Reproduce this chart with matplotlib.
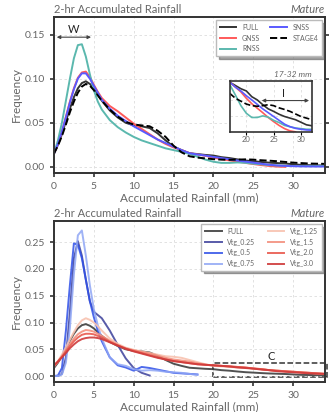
import numpy as np
import matplotlib
matplotlib.use("Agg")
import matplotlib.pyplot as plt
from matplotlib.patches import Rectangle

plt.rcParams['font.family'] = ['Lato', 'DejaVu Sans']

# shared rainfall grid (mm)
rain = [0, 0.5, 1, 1.5, 2, 2.5, 3, 3.5, 4, 4.5, 5, 5.5, 6, 7, 8, 9, 10, 11, 12, 13, 14, 15, 16,
        17, 18, 19, 20, 21, 22, 23, 24, 25, 26, 27, 28, 29, 30, 31, 32, 33, 34]
nan = np.nan

# top panel
full = [0.015, 0.025, 0.037, 0.052, 0.066, 0.079, 0.089, 0.095, 0.097, 0.094, 0.089, 0.082, 0.075,
        0.064, 0.056, 0.050, 0.047, 0.046, 0.044, 0.038, 0.030, 0.023, 0.019,
        0.0155, 0.0145, 0.0135, 0.0128, 0.011, 0.0100, 0.0085, 0.0072, 0.0064, 0.0055, 0.0048,
        0.0043, 0.0038, 0.0030, 0.0022, 0.0019, 0.0017, 0.0015]
gnss = [0.015, 0.026, 0.040, 0.057, 0.074, 0.089, 0.101, 0.107, 0.108, 0.102, 0.093, 0.085, 0.078,
        0.069, 0.063, 0.056, 0.049, 0.043, 0.037, 0.031, 0.026, 0.022, 0.019,
        0.0155, 0.0140, 0.0125, 0.0105, 0.0088, 0.0074, 0.0060, 0.0045, 0.0032, 0.0020, 0.0010,
        0.0003, 0.0, nan, nan, nan, nan, nan]
rnss = [0.015, 0.030, 0.050, 0.075, 0.100, 0.123, 0.138, 0.139, 0.125, 0.105, 0.087, 0.074, 0.065,
        0.053, 0.045, 0.039, 0.034, 0.030, 0.027, 0.024, 0.021, 0.019, 0.017,
        0.0147, 0.0115, 0.0082, 0.0058, 0.0045, 0.0045, 0.0050, 0.0046, 0.0036, 0.0029, 0.0020,
        0.0016, 0.0012, 0.0010, 0.0008, 0.0008, 0.0008, 0.0008]
snss = [0.015, 0.026, 0.040, 0.056, 0.073, 0.088, 0.100, 0.106, 0.106, 0.100, 0.092, 0.084, 0.076,
        0.066, 0.058, 0.052, 0.046, 0.041, 0.036, 0.031, 0.027, 0.023, 0.019,
        0.0155, 0.0140, 0.0128, 0.0113, 0.0100, 0.0086, 0.0072, 0.0060, 0.0048, 0.0036, 0.0024,
        0.0016, 0.0011, 0.0008, 0.0006, 0.0005, 0.0004, 0.0004]
stage4 = [0.015, 0.024, 0.035, 0.048, 0.062, 0.074, 0.084, 0.091, 0.094, 0.092, 0.087, 0.081, 0.075,
          0.065, 0.057, 0.051, 0.048, 0.047, 0.046, 0.041, 0.034, 0.024, 0.0165,
          0.0120, 0.0105, 0.0096, 0.0087, 0.0082, 0.0080, 0.0082, 0.0085, 0.0082, 0.0075, 0.0070,
          0.0064, 0.0056, 0.0048, 0.0043, 0.0038, 0.0036, 0.0034]

# bottom panel (Vtg sensitivity)
vtg_025 = [0.0, 0.0, 0.004, 0.035, 0.120, 0.220, 0.252, 0.225, 0.180, 0.140, 0.120, 0.114, 0.108,
           0.085, 0.058, 0.033, 0.015, 0.006, 0.001, nan, nan, nan, nan,
           nan, nan, nan, nan, nan, nan, nan, nan, nan, nan, nan, nan, nan, nan, nan, nan, nan, nan]
vtg_05 = [0.0, 0.001, 0.015, 0.085, 0.170, 0.248, 0.245, 0.220, 0.180, 0.140, 0.110, 0.085, 0.065,
          0.035, 0.020, 0.016, 0.010, 0.017, 0.015, 0.012, 0.009, 0.006, 0.005,
          0.004, 0.003, nan, nan, nan, nan, nan, nan, nan, nan, nan, nan, nan, nan, nan, nan, nan, nan]
vtg_075 = [0.0, 0.0, 0.003, 0.025, 0.090, 0.190, 0.263, 0.272, 0.225, 0.170, 0.125, 0.095, 0.070,
           0.035, 0.022, 0.019, 0.013, 0.010, 0.011, 0.010, 0.008, 0.007, 0.006,
           0.004, 0.002, nan, nan, nan, nan, nan, nan, nan, nan, nan, nan, nan, nan, nan, nan, nan, nan]
vtg_125 = [0.018, 0.028, 0.040, 0.054, 0.068, 0.082, 0.095, 0.104, 0.108, 0.105, 0.100, 0.093, 0.085,
           0.070, 0.060, 0.053, 0.049, 0.046, 0.043, 0.040, 0.037, 0.036, 0.034,
           0.030, 0.026, 0.022, 0.019, 0.018, 0.017, 0.016, 0.015, 0.014, 0.013, 0.011,
           0.010, 0.009, 0.008, 0.007, 0.006, 0.005, 0.004]
vtg_15 = [0.018, 0.027, 0.037, 0.048, 0.060, 0.070, 0.078, 0.083, 0.086, 0.085, 0.083, 0.079, 0.075,
          0.066, 0.058, 0.052, 0.048, 0.045, 0.042, 0.038, 0.034, 0.031, 0.029,
          0.027, 0.024, 0.021, 0.020, 0.019, 0.018, 0.017, 0.016, 0.014, 0.013, 0.011,
          0.010, 0.009, 0.008, 0.007, 0.006, 0.005, 0.004]
vtg_20 = [0.019, 0.027, 0.036, 0.046, 0.056, 0.065, 0.072, 0.077, 0.079, 0.079, 0.078, 0.075, 0.072,
          0.064, 0.057, 0.051, 0.047, 0.043, 0.039, 0.035, 0.031, 0.028, 0.026,
          0.024, 0.022, 0.021, 0.020, 0.019, 0.018, 0.017, 0.016, 0.014, 0.013, 0.011,
          0.010, 0.009, 0.008, 0.007, 0.006, 0.005, 0.004]
vtg_30 = [0.020, 0.027, 0.035, 0.043, 0.052, 0.059, 0.065, 0.069, 0.071, 0.072, 0.072, 0.071, 0.069,
          0.063, 0.057, 0.051, 0.046, 0.042, 0.038, 0.034, 0.031, 0.028, 0.026,
          0.024, 0.022, 0.021, 0.020, 0.019, 0.018, 0.016, 0.015, 0.014, 0.012, 0.011,
          0.009, 0.008, 0.007, 0.006, 0.005, 0.0045, 0.004]

txt = '#666666'
spine_c = '#333333'


def style_axes(ax):
    for s in ax.spines.values():
        s.set_color(spine_c)
        s.set_linewidth(1.4)
    ax.grid(True, ls=(0, (3, 3)), lw=0.6, color='#dddddd')
    ax.tick_params(labelsize=7.5, colors=spine_c, labelcolor=txt, width=1.2, length=3)
    ax.set_xlabel('Accumulated Rainfall (mm)', fontsize=8.5, color=txt, labelpad=1)
    ax.set_ylabel('Frequency', fontsize=8.5, color=txt, labelpad=2)
    ax.set_title('2-hr Accumulated Rainfall', loc='left', fontsize=8, color=txt, pad=3)
    ax.set_title('Mature', loc='right', fontsize=8, color=txt, style='italic', pad=3)


fig = plt.figure(figsize=(3.29, 4.12), dpi=100)

# ---------- top panel ----------
ax1 = fig.add_axes([0.164, 0.580, 0.824, 0.379])
series_top = [('FULL', full, '#333333', '-'), ('GNSS', gnss, '#ff5a5a', '-'),
              ('RNSS', rnss, '#5bb8ae', '-'), ('SNSS', snss, '#5a5aff', '-'),
              ('STAGE4', stage4, 'black', '--')]
for name, vals, c, ls in series_top:
    ax1.plot(rain, vals, color=c, ls=ls, lw=1.4, label=name)
ax1.set_xlim(0, 34)
ax1.set_ylim(-0.007, 0.17)
ax1.set_xticks([0, 5, 10, 15, 20, 25, 30])
ax1.set_yticks([0.0, 0.05, 0.10, 0.15])
ax1.yaxis.set_ticks_position('both')
style_axes(ax1)
leg = ax1.legend(ncol=2, fontsize=5, loc='upper right', frameon=True, fancybox=False,
                 shadow=True, handlelength=2.4, columnspacing=1.4, labelspacing=0.55,
                 borderpad=0.5)
for t in leg.get_texts():
    t.set_color(txt)
leg.get_frame().set_edgecolor('#bbbbbb')

ax1.annotate('', xy=(0, 0.147), xytext=(5, 0.147),
             arrowprops=dict(arrowstyle='<|-|>', color='#444444', lw=0.8, mutation_scale=5))
ax1.text(2.5, 0.149, 'W', ha='center', va='bottom', fontsize=8, color='#222222')

# inset
axi = fig.add_axes([0.699, 0.680, 0.249, 0.124])
for name, vals, c, ls in series_top:
    axi.plot(rain, vals, color=c, ls=ls, lw=1.2)
axi.set_xlim(17, 32)
axi.set_ylim(0, 0.016)
axi.set_xticks([20, 25, 30])
axi.set_yticks([0.005, 0.010])
axi.set_yticklabels([])
axi.tick_params(axis='y', length=0)
axi.tick_params(axis='x', labelsize=5.5, labelcolor=txt, length=2, pad=1)
axi.grid(True, ls=(0, (3, 3)), lw=0.6, color='#dddddd')
for s in axi.spines.values():
    s.set_color(spine_c)
    s.set_linewidth(1.2)
axi.set_title('17-32 mm', loc='right', fontsize=6, style='italic', color=txt, pad=3)
axi.annotate('', xy=(22.3, 0.0098), xytext=(32, 0.0098),
             arrowprops=dict(arrowstyle='<|-|>', color='#444444', lw=0.8, mutation_scale=5))
axi.text(26.8, 0.0103, 'I', ha='center', va='bottom', fontsize=8, color='#222222')

# ---------- bottom panel ----------
ax2 = fig.add_axes([0.164, 0.073, 0.824, 0.391])
series_bot = [('FULL', full, '#333333', 0.85), ('Vtg_0.25', vtg_025, '#3b3f9a', 0.85),
              ('Vtg_0.5', vtg_05, '#2f50e8', 0.85), ('Vtg_0.75', vtg_075, '#8fa6f5', 0.85),
              ('Vtg_1.25', vtg_125, '#f8c2b0', 0.9), ('Vtg_1.5', vtg_15, '#f3907e', 0.9),
              ('Vtg_2.0', vtg_20, '#e95a4e', 0.9), ('Vtg_3.0', vtg_30, '#cf3a3a', 0.9)]
for name, vals, c, a in series_bot:
    ax2.plot(rain, vals, color=c, lw=1.4, alpha=a, label=name)
ax2.set_xlim(0, 34)
ax2.set_ylim(-0.011, 0.29)
ax2.set_xticks([0, 5, 10, 15, 20, 25, 30])
ax2.set_yticks([0.0, 0.05, 0.10, 0.15, 0.20, 0.25])
style_axes(ax2)
leg2 = ax2.legend(ncol=2, fontsize=5, loc='upper right', frameon=True, fancybox=False,
                  shadow=True, handlelength=2.4, columnspacing=1.8, labelspacing=0.55,
                  borderpad=0.5)
for t in leg2.get_texts():
    t.set_color(txt)
leg2.get_frame().set_edgecolor('#bbbbbb')

ax2.add_patch(Rectangle((20, -0.002), 14.2, 0.026, fill=False, ls='--', lw=1.1,
                        ec='#333333', clip_on=False))
ax2.text(27.3, 0.027, 'C', ha='center', va='bottom', fontsize=8, color='#222222')

fig.savefig('out.png', dpi=100)
